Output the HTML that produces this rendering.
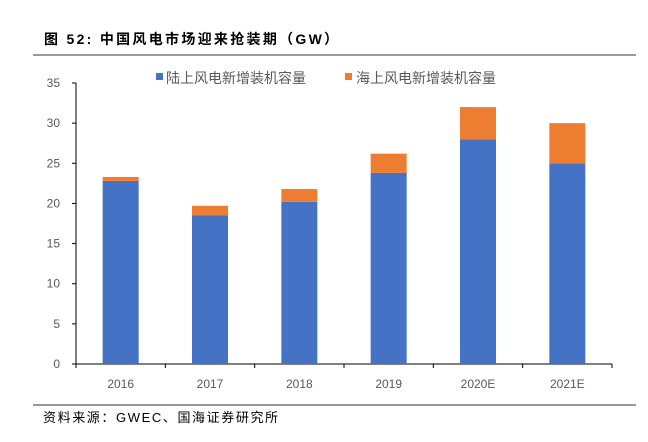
<!DOCTYPE html>
<html><head><meta charset="utf-8"><style>
body{margin:0;background:#fff;width:648px;height:442px;overflow:hidden;font-family:"Liberation Sans","Noto Sans CJK SC",sans-serif;}
</style></head><body>
<svg width="648" height="442" style="position:absolute;left:0;top:0">
<text x="44" y="44" font-size="14" font-weight="bold" fill="#000" letter-spacing="2.3">图 52:  中国风电市场迎来抢装期（GW）</text>
<line x1="33" y1="55" x2="636" y2="55" stroke="#999" stroke-width="2"/>
<g>
<rect x="156" y="73" width="7" height="7" fill="#4472C4"/>
<text x="166" y="83" font-size="14" fill="#595959">陆上风电新增装机容量</text>
<rect x="345" y="73" width="7" height="7" fill="#ED7D31"/>
<text x="356" y="83" font-size="14" fill="#595959">海上风电新增装机容量</text>
</g>
<g id="plot"></g>
<line x1="33" y1="405" x2="636" y2="405" stroke="#999" stroke-width="2"/>
<text x="43" y="422" font-size="13" fill="#000" letter-spacing="1.6">资料来源：GWEC、国海证券研究所</text>
</svg>
<script>
const categories=["2016","2017","2018","2019","2020E","2021E"];
const onshore=[22.8,18.5,20.2,23.8,28,25];
const offshore=[0.5,1.2,1.6,2.4,4,5];
const yTicks=[0,5,10,15,20,25,30,35];
const X0=76,X1=612,Y0=364,Y1=83,YMAX=35;
const g=document.getElementById('plot');
const ns="http://www.w3.org/2000/svg";
const bw=(X1-X0)/categories.length;
const y=v=>Y0-(v/YMAX)*(Y0-Y1);
const xc=i=>X0+bw*(i+0.5);
function mk(t,a){const e=document.createElementNS(ns,t);for(const k in a)e.setAttribute(k,a[k]);g.appendChild(e);return e;}
let ax=mk('line',{x1:X0,y1:Y1,x2:X0,y2:Y0,stroke:'#000','stroke-width':1});


let bx=mk('line',{x1:X0,y1:Y0,x2:X1,y2:Y0,stroke:'#000','stroke-width':1});


yTicks.forEach(v=>{
 const tk=mk('line',{x1:X0-4,y1:y(v),x2:X0,y2:y(v),stroke:'#000'});
 
 
 const t=mk('text',{x:X0-16,y:y(v)+4,'font-size':12,fill:'#595959','text-anchor':'end'});
 t.textContent=v;
 
 
});
for(let i=0;i<=categories.length;i++){
 const tk=mk('line',{x1:X0+bw*i,y1:Y0,x2:X0+bw*i,y2:Y0+4,stroke:'#000'});
 
 
}
const w=36;
categories.forEach((c,i)=>{
 const b=mk('rect',{x:xc(i)-w/2,y:y(onshore[i]),width:w,height:Y0-y(onshore[i]),fill:'#4472C4'});
 
 
 const o=mk('rect',{x:xc(i)-w/2,y:y(onshore[i]+offshore[i]),width:w,height:y(onshore[i])-y(onshore[i]+offshore[i]),fill:'#ED7D31'});
 
 
 const t=mk('text',{x:xc(i),y:Y0+24,'font-size':12,fill:'#595959','text-anchor':'middle'});
 t.textContent=c;
 
 
});
</script>
</body></html>
